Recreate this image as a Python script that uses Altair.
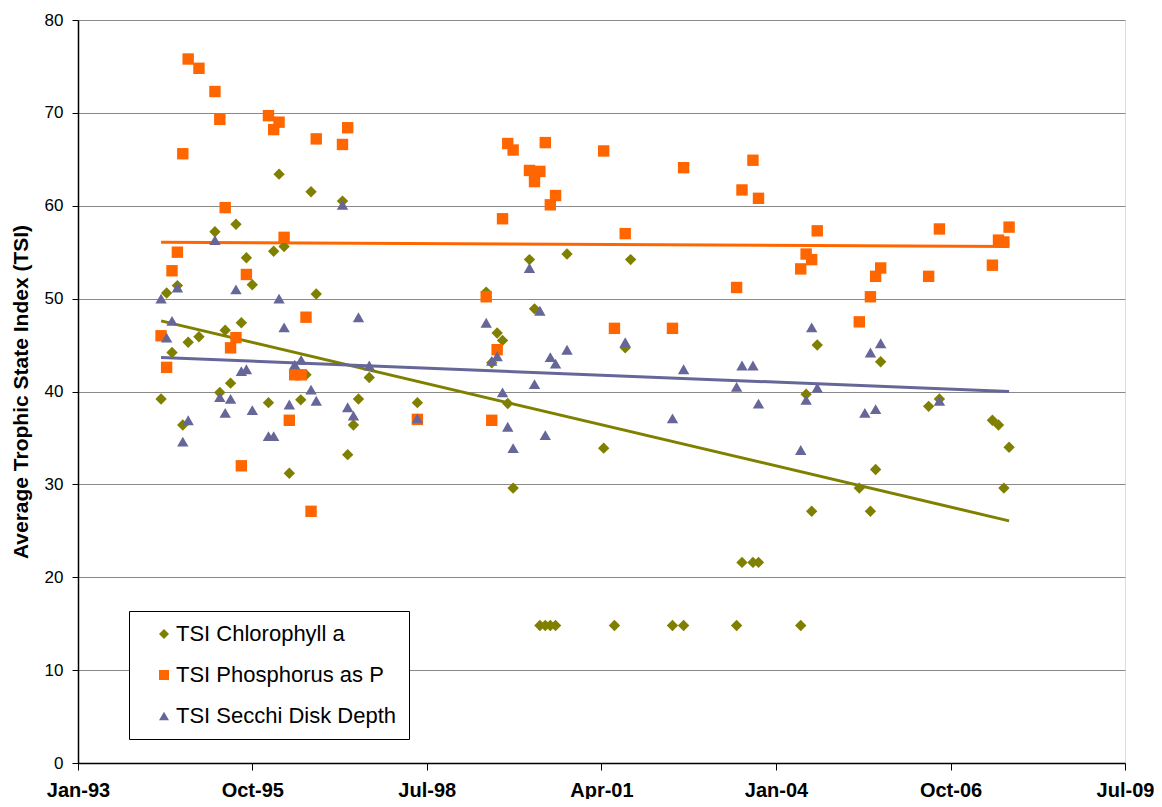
import altair as alt
import pandas as pd

# ---------------- data ----------------
chl_dates = ["1994-04-24", "1994-05-26", "1994-06-26", "1994-07-27", "1994-08-27", "1994-09-27",
             "1994-11-28", "1995-02-28", "1995-03-28", "1995-04-28", "1995-05-29", "1995-06-29",
             "1995-07-30", "1995-08-28", "1995-10-01", "1996-01-02", "1996-02-01", "1996-03-03",
             "1996-04-01", "1996-05-01", "1996-07-06", "1996-08-05", "1996-09-03", "1996-10-03",
             "1997-03-03", "1997-04-02", "1997-05-05", "1997-06-03", "1997-08-04", "1998-05-08",
             "1999-06-08", "1999-07-10", "1999-08-10", "1999-09-10", "1999-10-10", "1999-11-10",
             "2000-02-12", "2000-03-12", "2000-04-12", "2000-05-13", "2000-06-11", "2000-07-11",
             "2000-09-15", "2001-04-14", "2001-06-15", "2001-08-16", "2001-09-16", "2002-05-15",
             "2002-07-18", "2003-05-19", "2003-06-19", "2003-08-21", "2003-09-22", "2004-05-22",
             "2004-06-22", "2004-07-24", "2004-08-25", "2005-04-24", "2005-06-27", "2005-07-27",
             "2005-08-25", "2006-05-28", "2006-07-29", "2007-05-30", "2007-07-04", "2007-08-04",
             "2007-09-03"]
chl_values = [39.2, 50.6, 44.2, 51.4, 36.4, 45.3,
              45.9, 57.2, 39.9, 46.6, 40.9, 58.0,
              47.4, 54.4, 51.5, 38.8, 55.1, 63.4,
              55.6, 31.2, 39.1, 41.8, 61.5, 50.5,
              60.5, 33.2, 36.4, 39.2, 41.5, 38.8,
              50.7, 43.1, 46.3, 45.5, 38.7, 29.6,
              54.2, 48.9, 14.8, 14.8, 14.8, 14.8,
              54.8, 33.9, 14.8, 44.7, 54.2, 14.8,
              14.8, 14.8, 21.6, 21.6, 21.6, 14.8,
              39.7, 27.1, 45.0, 29.6, 27.1, 31.6,
              43.2, 38.4, 39.2, 36.9, 36.4, 29.6,
              34.0]

pho_dates = ["1994-04-24", "1994-05-26", "1994-06-26", "1994-07-27", "1994-08-27", "1994-09-27",
             "1994-11-28", "1995-02-28", "1995-03-28", "1995-04-28", "1995-05-29", "1995-06-29",
             "1995-07-30", "1995-08-28", "1996-01-02", "1996-02-01", "1996-03-03", "1996-04-01",
             "1996-05-01", "1996-06-01", "1996-07-08", "1996-08-05", "1996-09-03", "1996-10-03",
             "1997-03-03", "1997-04-02", "1998-05-08", "1999-06-08", "1999-07-10", "1999-08-10",
             "1999-09-10", "1999-10-10", "1999-11-10", "2000-02-12", "2000-03-12", "2000-04-12",
             "2000-05-13", "2000-06-11", "2000-07-11", "2001-04-14", "2001-06-15", "2001-08-16",
             "2002-05-15", "2002-07-18", "2003-05-19", "2003-06-19", "2003-08-21", "2003-09-22",
             "2004-05-22", "2004-06-22", "2004-07-24", "2004-08-25", "2005-04-24", "2005-06-27",
             "2005-07-27", "2005-08-25", "2006-05-28", "2006-07-29", "2007-05-30", "2007-07-04",
             "2007-08-04", "2007-09-03"]
pho_values = [46.0, 42.6, 53.0, 55.0, 65.6, 75.8,
              74.8, 72.3, 69.3, 59.8, 44.7, 45.8,
              32.0, 52.6, 69.7, 68.2, 69.0, 56.6,
              36.9, 41.8, 41.8, 48.0, 27.1, 67.2,
              66.6, 68.4, 37.0, 50.2, 36.9, 44.5,
              58.6, 66.7, 66.0, 63.8, 62.6, 63.7,
              66.8, 60.1, 61.1, 65.9, 46.8, 57.0,
              46.8, 64.1, 51.2, 61.7, 64.9, 60.8,
              53.2, 54.8, 54.2, 57.3, 47.5, 50.2,
              52.4, 53.3, 52.4, 57.5, 53.6, 56.3,
              56.1, 57.7]

sec_dates = ["1994-04-24", "1994-05-26", "1994-06-26", "1994-07-27", "1994-08-27", "1994-09-27",
             "1995-02-28", "1995-03-28", "1995-04-28", "1995-05-29", "1995-06-29", "1995-07-30",
             "1995-08-28", "1995-10-01", "1996-01-02", "1996-02-01", "1996-03-03", "1996-04-01",
             "1996-05-01", "1996-06-01", "1996-07-08", "1996-09-03", "1996-10-03", "1997-03-03",
             "1997-04-02", "1997-05-05", "1997-06-03", "1997-08-04", "1998-05-08", "1999-06-08",
             "1999-07-10", "1999-08-10", "1999-09-10", "1999-10-10", "1999-11-10", "2000-02-12",
             "2000-03-12", "2000-04-12", "2000-05-13", "2000-06-11", "2000-07-11", "2000-09-15",
             "2001-08-16", "2002-05-15", "2002-07-18", "2003-05-19", "2003-06-19", "2003-08-21",
             "2003-09-22", "2004-05-22", "2004-06-22", "2004-07-24", "2004-08-25", "2005-05-26",
             "2005-06-27", "2005-07-27", "2005-08-25", "2006-07-29"]
sec_values = [50.0, 45.8, 47.6, 51.2, 34.6, 36.9,
              56.3, 39.4, 37.7, 39.2, 51.0, 42.2,
              42.4, 38.0, 35.2, 35.2, 50.0, 46.9,
              38.6, 42.9, 43.4, 40.2, 39.0, 60.1,
              38.3, 37.4, 48.0, 42.8, 37.1, 47.4,
              43.3, 43.8, 39.9, 36.2, 33.9, 53.3,
              40.8, 48.7, 35.3, 43.7, 43.0, 44.5,
              45.3, 37.1, 42.4, 40.5, 42.8, 42.8,
              38.7, 33.7, 39.1, 46.9, 40.4, 37.7,
              44.2, 38.1, 45.2, 39.0]

series_names = ["TSI Chlorophyll a", "TSI Phosphorus as P", "TSI Secchi Disk Depth"]
series_colors = ["#808000", "#FF6600", "#666699"]
series_shapes = ["diamond", "square", "triangle-up"]

x_tick_dates = [(1993, 1), (1995, 10), (1998, 7), (2001, 4), (2004, 1), (2006, 10), (2009, 7)]
y_ticks = [0, 10, 20, 30, 40, 50, 60, 70, 80]

# ---------------- table ----------------
frames = []
for name, d, v in zip(series_names, [chl_dates, pho_dates, sec_dates],
                      [chl_values, pho_values, sec_values]):
    frames.append(pd.DataFrame({"date": d, "value": v, "series": name}))
df = pd.concat(frames, ignore_index=True)

all_dates = pd.to_datetime(df["date"])
extent_ms = [int(all_dates.min().value // 10**6), int(all_dates.max().value // 10**6)]

FONT = "Liberation Sans"

x_tick_values = [alt.DateTime(year=y, month=m, date=1, utc=True) for y, m in x_tick_dates]
x_domain = [x_tick_values[0], x_tick_values[-1]]

x_enc = alt.X(
    "date:T",
    scale=alt.Scale(type="utc", domain=x_domain, nice=False),
    axis=alt.Axis(
        values=x_tick_values, format="%b-%y", title=None, grid=False,
        labelFont=FONT, labelFontSize=20, labelFontWeight="bold", labelColor="black",
        labelPadding=10, tickSize=7, tickColor="black", domainColor="black",
        domainWidth=1.5, labelFlush=False, labelOverlap=False,
    ),
)
y_enc = alt.Y(
    "value:Q",
    scale=alt.Scale(domain=[0, 80], nice=False, zero=True),
    axis=alt.Axis(
        values=y_ticks, title="Average Trophic State Index (TSI)",
        titleFont=FONT, titleFontSize=21, titleFontWeight="bold", titleColor="black",
        titleX=-57, titleBaseline="middle",
        labelFont=FONT, labelFontSize=17, labelColor="black", labelPadding=9,
        tickSize=6, tickColor="black", domainColor="black", domainWidth=1.5,
        grid=True, gridColor="#8a8a8a", gridWidth=1,
    ),
)

# linear trend line of each series (computed by Vega-Lite from the points)
line_layers = []
for name, col in zip(series_names, series_colors):
    line_layers.append(
        alt.Chart(df).transform_filter(
            alt.datum.series == name
        ).transform_regression(
            "date", "value", extent=extent_ms
        ).mark_line(strokeWidth=3, color=col).encode(x=x_enc, y=y_enc)
    )

legend_spec = alt.Legend(
    title=None, orient="none", legendX=51, legendY=591,
    strokeColor="black", fillColor="white", padding=12,
    labelFont=FONT, labelFontSize=22, labelColor="black", labelLimit=500,
    symbolSize=100, symbolOffset=12, labelOffset=1, rowPadding=19,
    symbolStrokeWidth=0,
)

points = alt.Chart(df).mark_point(filled=True, opacity=1, size=130).encode(
    x=x_enc,
    y=y_enc,
    color=alt.Color("series:N", scale=alt.Scale(domain=series_names, range=series_colors),
                    legend=legend_spec),
    shape=alt.Shape("series:N", scale=alt.Scale(domain=series_names, range=series_shapes),
                    legend=legend_spec),
)

chart = alt.layer(*line_layers, points).properties(
    width=1047, height=743,
    padding={"left": 70, "top": 12, "right": 29, "bottom": 36},
    autosize=alt.AutoSizeParams(type="none"),
    background="white",
).configure_view(
    stroke="#555555", strokeWidth=1.5,
).configure(font=FONT)

chart.save("out.html", embed_options={"renderer": "svg", "actions": False})
